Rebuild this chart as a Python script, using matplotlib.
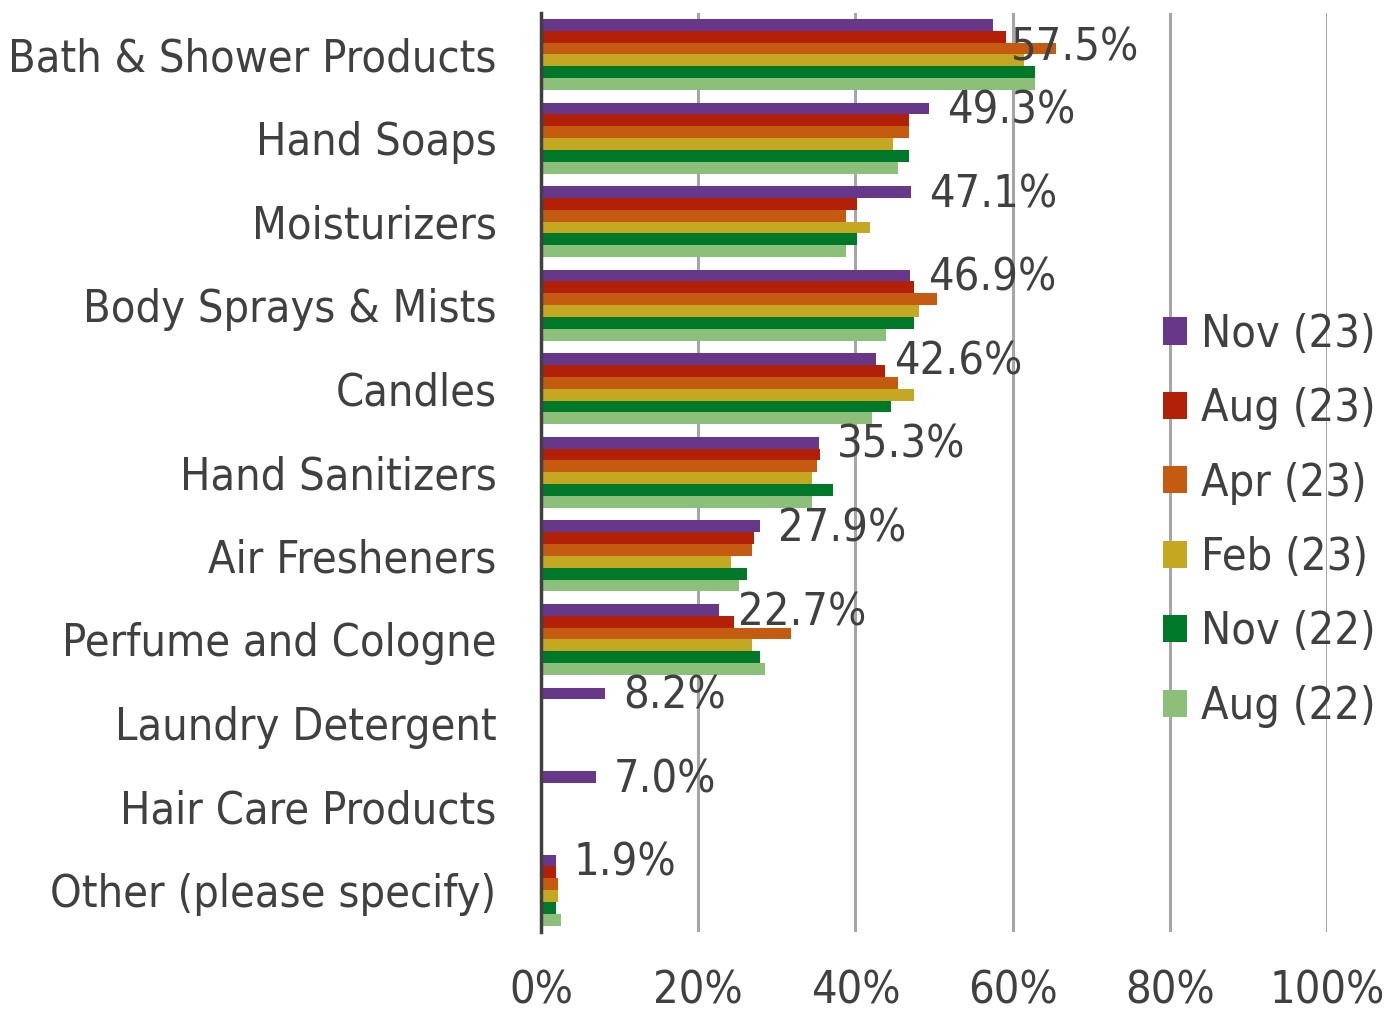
import numpy as np
import matplotlib.pyplot as plt

categories = ['Bath & Shower Products', 'Hand Soaps', 'Moisturizers', 'Body Sprays & Mists',
              'Candles', 'Hand Sanitizers', 'Air Fresheners', 'Perfume and Cologne',
              'Laundry Detergent', 'Hair Care Products', 'Other (please specify)']

series = ['Nov (23)', 'Aug (23)', 'Apr (23)', 'Feb (23)', 'Nov (22)', 'Aug (22)']
colors = ['#673889', '#B22008', '#C55A11', '#C4A822', '#00782A', '#8BBF7A']

nov23 = [57.5, 49.3, 47.1, 46.9, 42.6, 35.3, 27.9, 22.7, 8.2, 7.0, 1.9]
aug23 = [59.2, 46.8, 40.2, 47.4, 43.8, 35.5, 27.1, 24.5, 0, 0, 1.9]
apr23 = [65.5, 46.8, 38.8, 50.4, 45.4, 35.1, 26.8, 31.8, 0, 0, 2.2]
feb23 = [61.4, 44.8, 41.8, 48.1, 47.4, 34.5, 24.2, 26.8, 0, 0, 2.2]
nov22 = [62.8, 46.8, 40.2, 47.4, 44.5, 37.1, 26.2, 27.8, 0, 0, 1.9]
aug22 = [62.8, 45.4, 38.8, 43.9, 42.1, 34.5, 25.2, 28.5, 0, 0, 2.5]
values = [nov23, aug23, apr23, feb23, nov22, aug22]

plt.rcParams['font.family'] = ['DejaVu Sans']
plt.rcParams['font.stretch'] = 'condensed'
fs = 32.3
txt = '#404040'

fig = plt.figure(figsize=(13.88, 10.13), dpi=100)
ax = fig.add_axes([0.3898, 0.080, 0.5663, 0.9075])

y = np.arange(len(categories))
group = 0.85
h = group / len(series)
for i, (name, vals) in enumerate(zip(series, values)):
    ax.barh(y - group / 2 + (i + 0.5) * h, vals, height=h, color=colors[i],
            label=name, zorder=2)

# data labels for the latest wave only
for k, v in enumerate(nov23):
    dy = 17 if k == 0 else 2
    ax.annotate(f'{v:.1f}%', xy=(v, y[k] - group / 2 + 0.5 * h), xytext=(13, -dy),
                textcoords='offset points', ha='left', va='center',
                fontsize=fs, color=txt, zorder=3)

ax.set_xlim(0, 100)
ax.set_ylim(len(categories) - 0.5, -0.5)
ax.set_xticks(np.arange(0, 101, 20))
ax.set_xticklabels([f'{t}%' for t in range(0, 101, 20)])
ax.set_yticks(y)
ax.set_yticklabels(categories)
ax.tick_params(axis='both', length=0, labelsize=fs, colors=txt)
ax.tick_params(axis='x', pad=27)
ax.tick_params(axis='y', pad=32)

ax.grid(axis='x', color='#A6A6A6', linewidth=2.2, zorder=0)
ax.set_axisbelow(True)
for s in ['top', 'right', 'bottom']:
    ax.spines[s].set_visible(False)
ax.spines['left'].set_color('#404040')
ax.spines['left'].set_linewidth(2.5)
ax.spines['left'].set_zorder(4)

leg = fig.legend(loc='upper left', bbox_to_anchor=(0.8085, 0.731), frameon=False,
                 fontsize=fs, handlelength=0.55, handleheight=0.55,
                 handletextpad=0.3, labelspacing=0.7, labelcolor=txt)

plt.savefig('out.png', dpi=100)
